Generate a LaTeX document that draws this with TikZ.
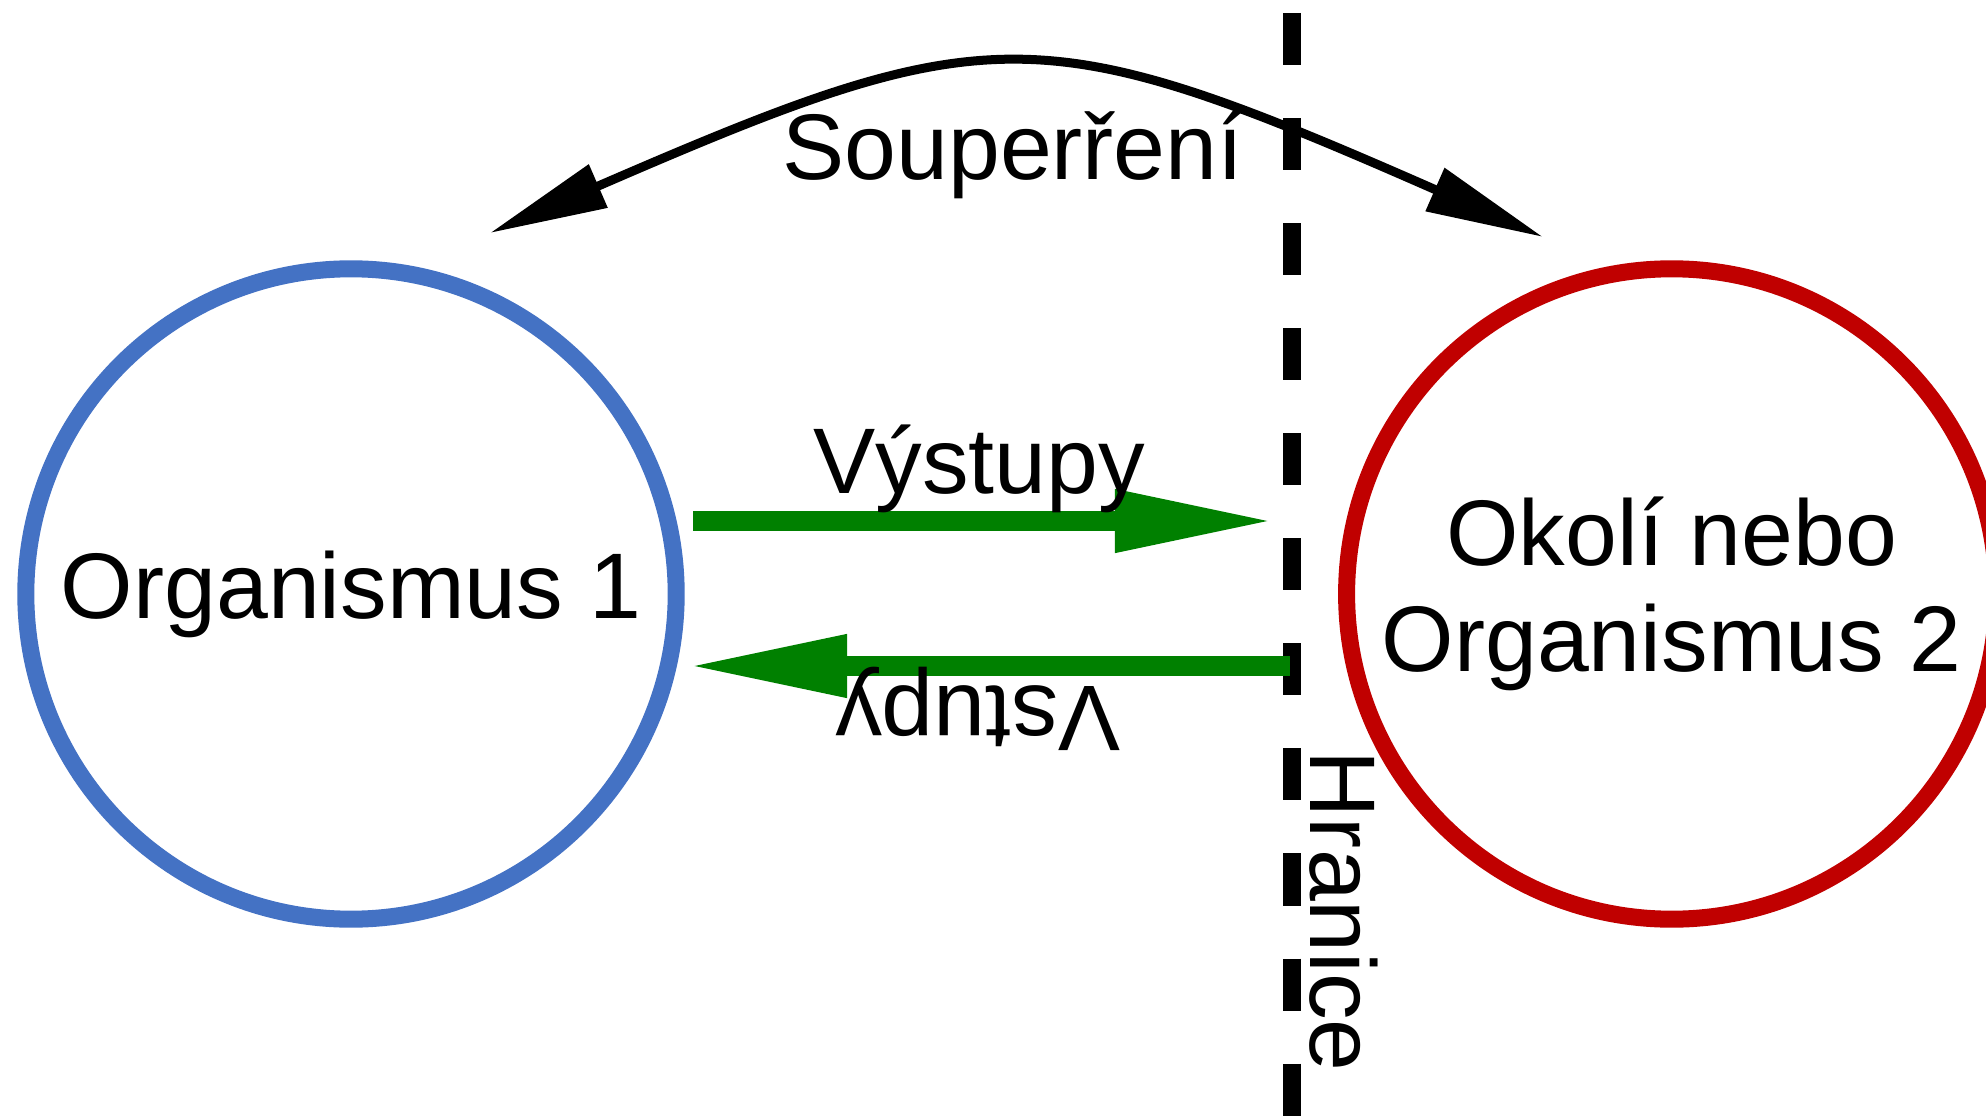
\documentclass[tikz,border=0pt]{standalone}
\usepackage{fontspec}
\setmainfont{Liberation Sans}
\usetikzlibrary{arrows.meta, positioning}
\definecolor{orgblue}{RGB}{68,114,196}
\definecolor{orgred}{RGB}{192,0,0}
\definecolor{flowgreen}{RGB}{0,128,0}

\begin{document}
\begin{tikzpicture}[x=0.01cm, y=-0.01cm, node distance=13.2cm, on grid,
      >={Triangle[length=1.18cm,width=0.45cm]},
      every node/.style={font=\fontsize{26.5}{30}\selectfont, inner sep=0pt},
      organism/.style={circle, draw, line width=0.17cm, minimum size=6.5cm, align=center},
      flow/.style={draw=flowgreen, line width=0.2cm, -{Triangle[length=1.6cm,width=0.58cm]}},
      boundary/.style={line width=0.18cm, dash pattern=on 0.52cm off 0.53cm}]
      \useasboundingbox (0,0) rectangle (1986,1116);
      \node[organism, draw=orgblue] (org1) at (351,594) {Organismus 1};
      \node[organism, draw=orgred]  (org2) [right=of org1] {Okolí nebo\\Organismus 2};
      % hranice mezi organismem a okolim
      \coordinate (b_top) at (1292,13);
      \coordinate (b_bot) at (1292,1116);
      \draw[boundary] (b_top) -- (b_bot);
      % souperreni
      \coordinate (r_1) at (490,233);
      \coordinate (r_2) at (1543,237);
      \draw[<->, line width=0.09cm] (r_1) .. controls (990,16) and (1040,16) .. (r_2);
      % vystupy a vstupy
      \coordinate (o_1) at (693,521);
      \coordinate (o_2) at (1275,521);
      \coordinate (i_1) at (1290,666);
      \coordinate (i_2) at (687,666);
      \draw[flow] (o_1) -- (o_2);
      \draw[flow] (i_1) -- (i_2);
      \node[anchor=base] (rival) at (1013,180) {Souperření};
      \node[anchor=base] (out_l) at (979,493) {Výstupy};
      \node[anchor=base, rotate=180] (in_l) at (978,686) {Vstupy};
      \node[anchor=base west, rotate=-90] (bound) at (1310,750) {Hranice};
    \end{tikzpicture}
\end{document}
